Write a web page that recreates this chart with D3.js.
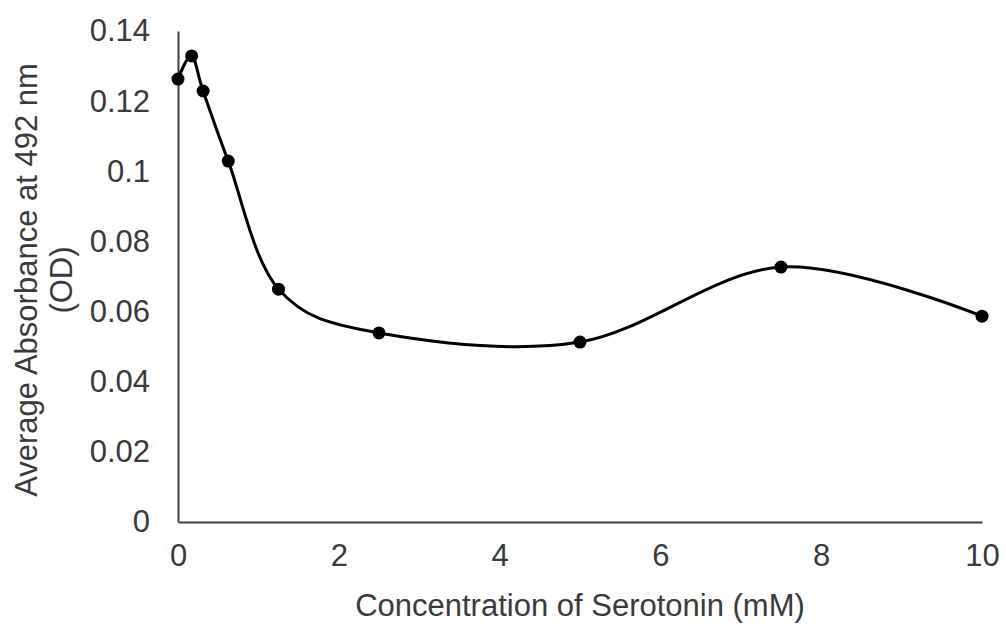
<!DOCTYPE html>
<html>
<head>
<meta charset="utf-8">
<script src="https://cdn.jsdelivr.net/npm/d3@7"></script>
<style>
  body { margin: 0; background: #fff; }
  svg text { font-family: "Liberation Sans", Arial, sans-serif; fill: #3a3a3a; }
</style>
</head>
<body>
<div id="chart"></div>
<script>
// serotonin concentration (mM) and mean absorbance at 492 nm
var concentrations = [0, 0.17, 0.3125, 0.625, 1.25, 2.5, 5, 7.5, 10];
var absorbance = [0.1263, 0.1329, 0.1229, 0.1029, 0.0664, 0.0539, 0.0513, 0.0727, 0.0587];
var xTicks = [0, 2, 4, 6, 8, 10];
var yTicks = [0, 0.02, 0.04, 0.06, 0.08, 0.1, 0.12, 0.14];
var yTickLabels = ["0", "0.02", "0.04", "0.06", "0.08", "0.1", "0.12", "0.14"];

var width = 1006, height = 626;
var margin = {top: 31, right: 24, bottom: 104, left: 178};
var fontSize = 31;

var svg = d3.select("#chart").append("svg")
    .attr("width", width)
    .attr("height", height);

var x = d3.scaleLinear().domain([0, 10]).range([margin.left, width - margin.right]);
var y = d3.scaleLinear().domain([0, 0.14]).range([height - margin.bottom, margin.top]);

var data = concentrations.map(function(c, i){ return {x: c, y: absorbance[i]}; });

// x axis
var xAxis = svg.append("g")
    .attr("transform", "translate(0," + y(0) + ")")
    .call(d3.axisBottom(x).tickValues(xTicks).tickSize(0).tickPadding(22).tickFormat(d3.format("d")));
xAxis.select(".domain").attr("stroke", "#404040").attr("stroke-width", 2);
xAxis.selectAll("text").style("font-size", fontSize + "px").attr("fill", "#3a3a3a");

// y axis
var yAxis = svg.append("g")
    .attr("transform", "translate(" + x(0) + ",0)")
    .call(d3.axisLeft(y).tickValues(yTicks).tickSize(0).tickPadding(28)
      .tickFormat(function(d, i){ return yTickLabels[i]; }));
yAxis.select(".domain").attr("stroke", "#404040").attr("stroke-width", 2);
yAxis.selectAll("text").style("font-size", fontSize + "px").attr("fill", "#3a3a3a");

// axis titles
svg.append("text")
    .attr("x", (x(0) + x(10)) / 2)
    .attr("y", 616)
    .attr("text-anchor", "middle")
    .style("font-size", fontSize + "px")
    .text("Concentration of Serotonin (mM)");

var yTitle = svg.append("text")
    .attr("transform", "translate(37,280) rotate(-90)")
    .attr("text-anchor", "middle")
    .style("font-size", fontSize + "px");
yTitle.append("tspan").attr("x", 0).attr("y", 0).text("Average Absorbance at 492 nm");
yTitle.append("tspan").attr("x", 0).attr("y", 35).text("(OD)");

// smoothed line
var line = d3.line()
    .x(function(d){ return x(d.x); })
    .y(function(d){ return y(d.y); })
    .curve(d3.curveCardinal.tension(0));

svg.append("path")
    .datum(data)
    .attr("fill", "none")
    .attr("stroke", "#000")
    .attr("stroke-width", 3)
    .attr("d", line);

svg.selectAll("circle.pt")
    .data(data)
    .enter()
    .append("circle")
    .attr("class", "pt")
    .attr("cx", function(d){ return x(d.x); })
    .attr("cy", function(d){ return y(d.y); })
    .attr("r", 6.5)
    .attr("fill", "#000");
</script>
</body>
</html>
